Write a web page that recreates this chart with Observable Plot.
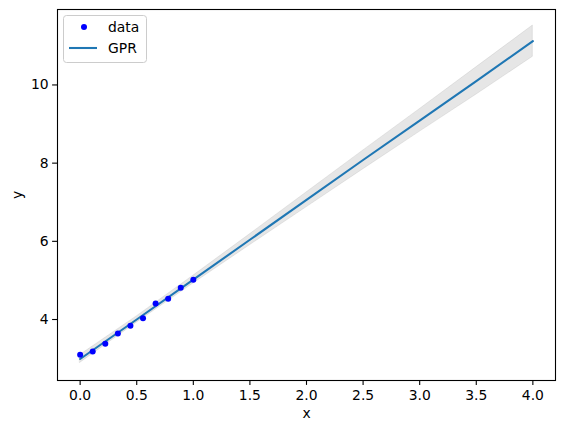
<!DOCTYPE html>
<html>
<head>
<meta charset="utf-8">
<script src="https://cdn.jsdelivr.net/npm/d3@7"></script>
<script src="https://cdn.jsdelivr.net/npm/@observablehq/plot@0.6"></script>
<style>
  html, body { margin: 0; padding: 0; background: #fff; }
  #wrap { position: relative; width: 563px; height: 432px; font-family: "DejaVu Sans", sans-serif; }
</style>
</head>
<body>
<div id="wrap"></div>
<script>
// Observed data points
const dataX = [0, 0.1111, 0.2222, 0.3333, 0.4444, 0.5556, 0.6667, 0.7778, 0.8889, 1.0];
const dataY = [3.10, 3.18, 3.38, 3.64, 3.84, 4.03, 4.41, 4.53, 4.81, 5.02];

// GPR prediction (mean and std)
const predX    = [0, 0.5, 1.0, 1.5, 2.0, 2.5, 3.0, 3.5, 4.0];
const predMean = [2.99, 4.0, 5.02, 6.04, 7.06, 8.08, 9.09, 10.10, 11.12];
const predStd  = [0.10, 0.08, 0.10, 0.14, 0.19, 0.24, 0.29, 0.35, 0.40];

const xTicks = [0, 0.5, 1.0, 1.5, 2.0, 2.5, 3.0, 3.5, 4.0];
const yTicks = [4, 6, 8, 10];

const points = dataX.map((x, i) => ({x, y: dataY[i]}));
const pred = predX.map((x, i) => ({x, m: predMean[i], lo: predMean[i] - predStd[i], hi: predMean[i] + predStd[i]}));

const FONT = "DejaVu Sans, sans-serif";

const chart = Plot.plot({
  width: 563,
  height: 432,
  marginLeft: 57,
  marginRight: 8,
  marginTop: 9,
  marginBottom: 52,
  style: {fontFamily: FONT, fontSize: "13.9px", background: "white", color: "black"},
  x: {domain: [-0.2, 4.2]},
  y: {domain: [2.44, 11.93]},
  marks: [
    Plot.areaY(pred, {x: "x", y1: "lo", y2: "hi", fill: "gray", fillOpacity: 0.2, stroke: "gray", strokeOpacity: 0.15, strokeWidth: 1}),
    Plot.line(pred, {x: "x", y: "m", stroke: "#1f77b4", strokeWidth: 2.08}),
    Plot.dot(points, {x: "x", y: "y", r: 3, fill: "#0000ff", stroke: "none"}),
    Plot.frame({stroke: "black", strokeWidth: 1.1}),
    Plot.axisX({ticks: xTicks, tickFormat: d3.format(".1f"), tickSize: 4.9, tickPadding: 5, label: null, fontSize: "13.9px", strokeWidth: 1.1}),
    Plot.axisY({ticks: yTicks, tickFormat: d3.format("d"), tickSize: 4.9, tickPadding: 4, label: null, fontSize: "13.9px", strokeWidth: 1.1}),
    Plot.text(["x"], {frameAnchor: "bottom", lineAnchor: "middle", dy: 33, text: d => d, fontSize: 13.9, fill: "black"}),
    Plot.text(["y"], {frameAnchor: "left", textAnchor: "middle", lineAnchor: "middle", dx: -40, text: d => d, rotate: -90, fontSize: 13.9, fill: "black"})
  ]
});

const wrap = document.getElementById("wrap");
wrap.appendChild(chart);

// Legend overlay
const legendEntries = [
  {label: "data", type: "dot", color: "#0000ff"},
  {label: "GPR", type: "line", color: "#1f77b4"}
];
const lg = d3.create("svg").attr("id", "legend").attr("width", 85).attr("height", 49)
  .style("position", "absolute").style("left", "63px").style("top", "15px");
lg.append("rect").attr("x", 0.5).attr("y", 0.5).attr("width", 83).attr("height", 47).attr("rx", 3)
  .attr("fill", "white").attr("fill-opacity", 0.8).attr("stroke", "#cccccc").attr("stroke-width", 1);
legendEntries.forEach((e, i) => {
  const cy = 12 + i * 21;
  if (e.type === "dot") {
    lg.append("circle").attr("cx", 21).attr("cy", cy).attr("r", 3).attr("fill", e.color);
  } else {
    lg.append("line").attr("x1", 6).attr("x2", 34).attr("y1", cy).attr("y2", cy)
      .attr("stroke", e.color).attr("stroke-width", 2.08);
  }
  lg.append("text").attr("x", 45).attr("y", cy).attr("dy", "0.35em")
    .attr("font-family", FONT).attr("font-size", "13.9px").attr("fill", "black").text(e.label);
});
wrap.appendChild(lg.node());
</script>
</body>
</html>
